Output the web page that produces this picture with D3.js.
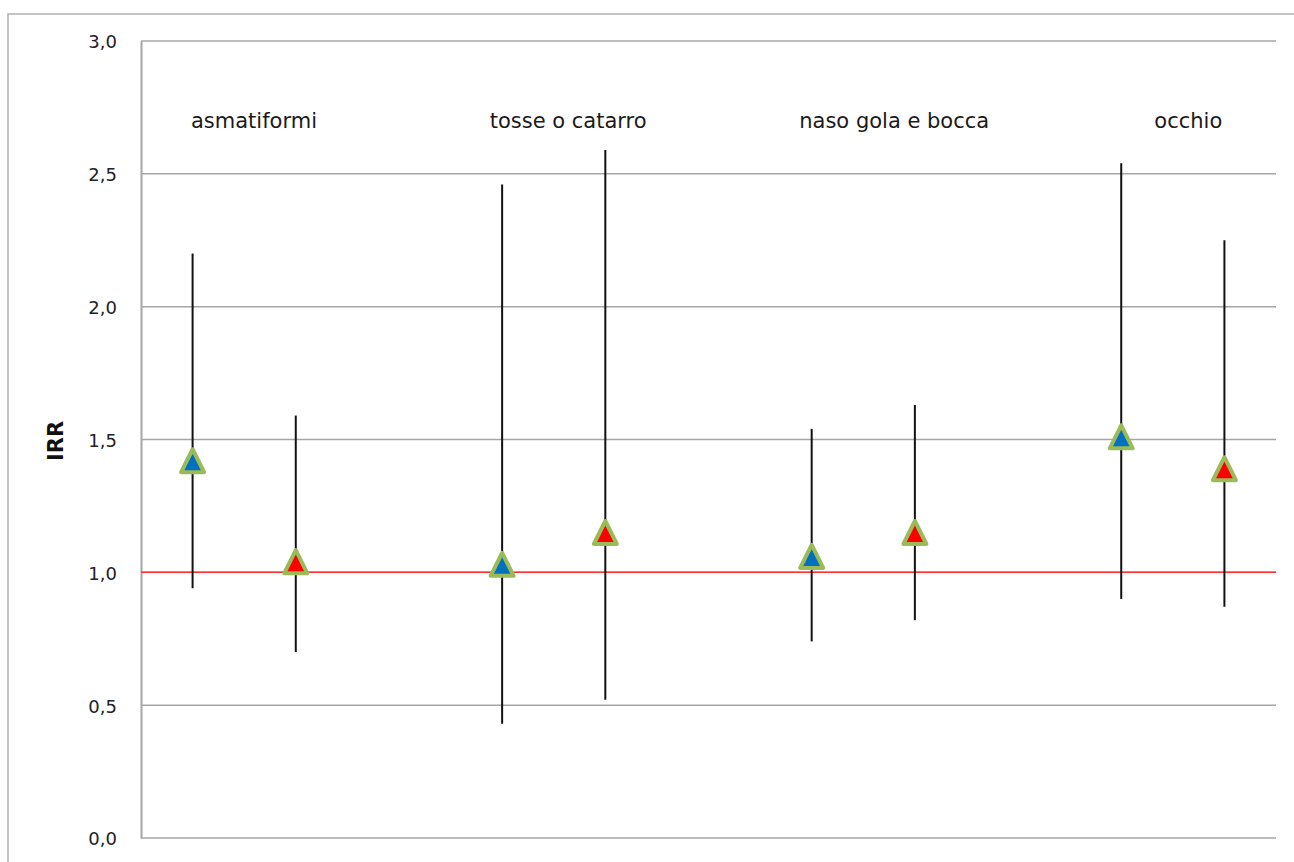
<!DOCTYPE html>
<html>
<head>
<meta charset="utf-8">
<script src="https://cdn.jsdelivr.net/npm/d3@7"></script>
<style>
body { margin: 0; background: #fff; }
svg { display: block; }
text { font-family: "DejaVu Sans", "Liberation Sans", sans-serif; }
</style>
</head>
<body>
<div id="chart"></div>
<script>
const slots = ["s0","s1","g0","s3","s4","g1","s6","s7","g2","s9","s10"];
const groupLabels = ["asmatiformi", "tosse o catarro", "naso gola e bocca", "occhio"];
const labelSlotPos = [1.095, 4.14, 7.30, 10.15];
const pointSlots = ["s0","s1","s3","s4","s6","s7","s9","s10"];
const series = ["blue","red","blue","red","blue","red","blue","red"];
const irr   = [1.42, 1.04, 1.03, 1.15, 1.06, 1.15, 1.51, 1.39];
const lower = [0.94, 0.70, 0.43, 0.52, 0.74, 0.82, 0.90, 0.87];
const upper = [2.20, 1.59, 2.46, 2.59, 1.54, 1.63, 2.54, 2.25];
const yTicks = [0, 0.5, 1.0, 1.5, 2.0, 2.5, 3.0];
const refValue = 1.0;
const labelValue = 2.7;
const fillColors = {blue: "#0070c0", red: "#ff0000"};

const W = 1294, H = 862;
const mLeft = 141, mRight = 1276, mTop = 41, mBottom = 838;

const svg = d3.select("#chart").append("svg").attr("width", W).attr("height", H);

// outer chart border
svg.append("rect").attr("x", 8).attr("y", 14).attr("width", 1300).attr("height", 900)
  .attr("fill", "none").attr("stroke", "#b0b0b0").attr("stroke-width", 1.5);

const x = d3.scaleBand().domain(slots).range([mLeft, mRight]).padding(0);
const xSlot = d3.scaleLinear().domain([0, slots.length]).range([mLeft, mRight]);
const y = d3.scaleLinear().domain([0, 3]).range([mBottom, mTop]);

// gridlines
svg.append("g").selectAll("line").data(yTicks.filter(d => d > 0)).join("line")
  .attr("x1", mLeft).attr("x2", mRight)
  .attr("y1", d => y(d)).attr("y2", d => y(d))
  .attr("stroke", "#a6a6a6").attr("stroke-width", 1.5);

// y axis
const yAxis = d3.axisLeft(y).tickValues(yTicks).tickSize(0).tickPadding(24)
  .tickFormat(d => d3.format(".1f")(d).replace(".", ","));
const ga = svg.append("g").attr("transform", `translate(${mLeft},0)`).call(yAxis);
ga.select(".domain").attr("stroke", "#a6a6a6").attr("stroke-width", 2);
ga.selectAll("text").attr("font-size", 18).attr("fill", "#222").attr("dy", "0.38em")
  .attr("font-family", "DejaVu Sans");

// bottom axis line
svg.append("line").attr("x1", mLeft).attr("x2", mRight).attr("y1", mBottom).attr("y2", mBottom)
  .attr("stroke", "#a6a6a6").attr("stroke-width", 1.5);

// reference line
svg.append("line").attr("x1", mLeft).attr("x2", mRight)
  .attr("y1", y(refValue)).attr("y2", y(refValue))
  .attr("stroke", "#ff3030").attr("stroke-width", 1.5);

// y title
svg.append("text").attr("transform", `translate(63,441) rotate(-90)`)
  .attr("text-anchor", "middle").attr("font-size", 21).attr("font-weight", "bold")
  .attr("font-family", "Liberation Sans")
  .attr("fill", "#111").text("IRR");

// group labels
svg.append("g").selectAll("text").data(groupLabels).join("text")
  .attr("x", (d, i) => xSlot(labelSlotPos[i]))
  .attr("y", y(labelValue)).attr("dy", "0.34em")
  .attr("text-anchor", "middle").attr("font-size", 21).attr("fill", "#1a1a1a")
  .text(d => d);

// error bars
const xc = s => x(s) + x.bandwidth() / 2;
svg.append("g").selectAll("line").data(pointSlots).join("line")
  .attr("x1", d => xc(d)).attr("x2", d => xc(d))
  .attr("y1", (d, i) => y(lower[i])).attr("y2", (d, i) => y(upper[i]))
  .attr("stroke", "#111").attr("stroke-width", 2);

// triangles (Excel-style marker, centred on its bounding box)
const excelTriangle = {
  draw(ctx, size) {
    const s = Math.sqrt(size);
    ctx.moveTo(0, -s / 2);
    ctx.lineTo(s / 2, s / 2);
    ctx.lineTo(-s / 2, s / 2);
    ctx.closePath();
  }
};
const tri = d3.symbol().type(excelTriangle).size(23 * 23);
svg.append("g").selectAll("path").data(pointSlots).join("path")
  .attr("d", tri)
  .attr("transform", (d, i) => `translate(${xc(d)},${y(irr[i])})`)
  .attr("fill", (d, i) => fillColors[series[i]])
  .attr("stroke", "#9bbb59").attr("stroke-width", 4).attr("stroke-linejoin", "round");
</script>
</body>
</html>
